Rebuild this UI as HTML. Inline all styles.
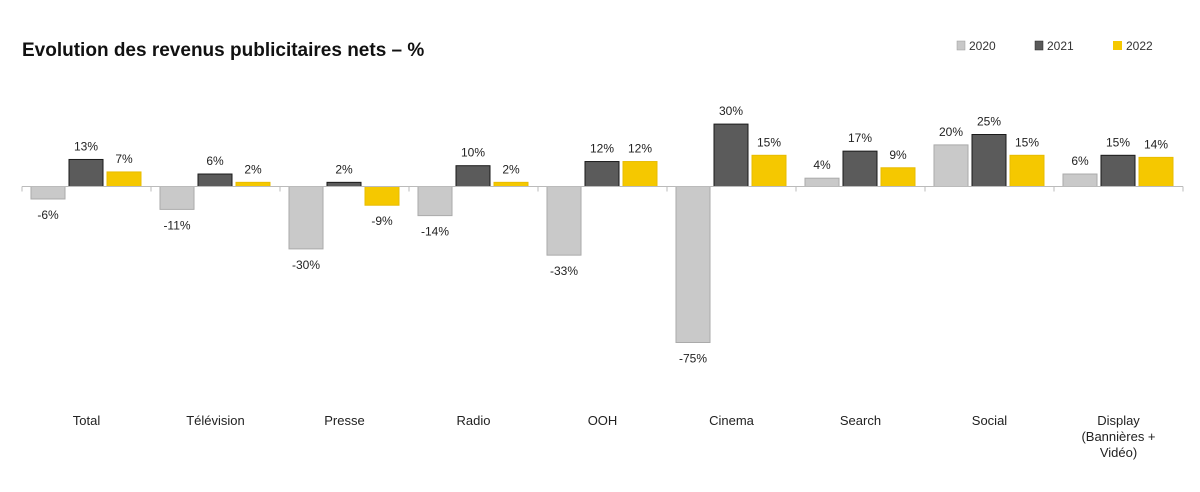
<!DOCTYPE html>
<html><head><meta charset="utf-8">
<style>
body{margin:0;background:#fff;width:1200px;height:487px;overflow:hidden;font-family:"Liberation Sans",sans-serif;}
svg text{font-family:"Liberation Sans",sans-serif;}
</style></head><body>
<svg id="chart" width="1200" height="487">
<text x="22" y="56" font-size="19" font-weight="bold" fill="#111">Evolution des revenus publicitaires nets – %</text>
<g>
<rect x="957" y="41" width="8" height="9" fill="#c8c8c8" stroke="#999" stroke-width="0.5"/>
<text x="969" y="50" font-size="12" fill="#333">2020</text>
<rect x="1035" y="41" width="8" height="9" fill="#5a5a5a" stroke="#222" stroke-width="0.5"/>
<text x="1047" y="50" font-size="12" fill="#333">2021</text>
<rect x="1113" y="41" width="9" height="9" fill="#f5c800"/>
<text x="1126" y="50" font-size="12" fill="#333">2022</text>
</g>
<g id="bars"></g>
<g id="axis"></g>
</svg>
<script>
const categories=["Total","Télévision","Presse","Radio","OOH","Cinema","Search","Social","Display|(Bannières +|Vidéo)"];
const series2020=[-6,-11,-30,-14,-33,-75,4,20,6];
const series2021=[13,6,2,10,12,30,17,25,15];
const series2022=[7,2,-9,2,12,15,9,15,14];
const seriesNames=["2020","2021","2022"];
const ns="http://www.w3.org/2000/svg";
const x0=22,catW=129,base=186.5,k=2.08,barW=34,step=38;
const fills=["#c9c9c9","#5b5b5b","#f5c800"],strokes=["#aaa","#1a1a1a","#e8bc00"];
function yS(v){return base-v*k;}
function xCat(i){return x0+i*catW;}
const bars=document.getElementById('bars'),axis=document.getElementById('axis');
const all=[series2020,series2021,series2022];
categories.forEach((c,i)=>{
  all.forEach((s,j)=>{
    const v=s[i];const x=xCat(i)+9+j*step;
    const r=document.createElementNS(ns,'rect');
    r.setAttribute('x',x);r.setAttribute('y',Math.min(yS(v),base));
    r.setAttribute('width',barW);r.setAttribute('height',Math.max(Math.abs(v*k),1.5));
    r.setAttribute('fill',fills[j]);r.setAttribute('stroke',strokes[j]);r.setAttribute('stroke-width',1);
    
    
    bars.appendChild(r);
    const t=document.createElementNS(ns,'text');
    t.setAttribute('x',x+barW/2);
    t.setAttribute('y',v>=0?yS(v)-9:yS(v)+20);
    t.setAttribute('text-anchor','middle');t.setAttribute('font-size','12');t.setAttribute('fill','#222');
    t.textContent=v+'%';
    
    
    bars.appendChild(t);
  });
  const lines=c.split('|');
  lines.forEach((ln,l)=>{
    const t=document.createElementNS(ns,'text');
    t.setAttribute('x',xCat(i)+catW/2);t.setAttribute('y',425+l*16);
    t.setAttribute('text-anchor','middle');t.setAttribute('font-size','13');t.setAttribute('fill','#222');
    t.textContent=ln;
    
    
    axis.appendChild(t);
  });
});
const ax=document.createElementNS(ns,'line');
ax.setAttribute('x1',x0);ax.setAttribute('x2',xCat(categories.length));
ax.setAttribute('y1',base);ax.setAttribute('y2',base);ax.setAttribute('stroke','#bbb');ax.setAttribute('stroke-width','1');


axis.appendChild(ax);
for(let i=0;i<=categories.length;i++){
  const tk=document.createElementNS(ns,'line');
  tk.setAttribute('x1',xCat(i));tk.setAttribute('x2',xCat(i));tk.setAttribute('y1',base);tk.setAttribute('y2',base+5);
  tk.setAttribute('stroke','#bbb');
  
  
  axis.appendChild(tk);
}
</script>
</body></html>
